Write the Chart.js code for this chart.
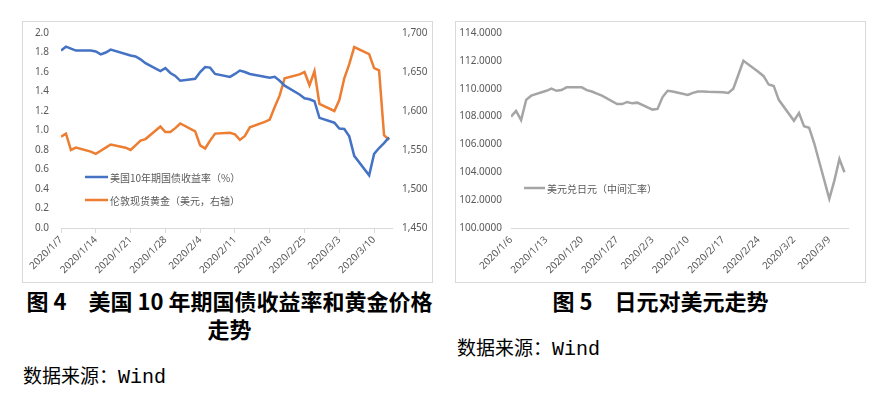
<!DOCTYPE html>
<html>
<head>
<meta charset="utf-8">
<script src="https://cdn.jsdelivr.net/npm/chart.js"></script>
<style>
  body { margin:0; background:#fff; width:889px; height:398px; position:relative; overflow:hidden; }
  .box { position:absolute; top:21px; width:411px; height:262px; border:1px solid #d9d9d9; box-sizing:border-box; }
  .box canvas { display:block; }
  .cap { position:absolute; top:286px; width:411px; text-align:center; font-family:"Noto Sans CJK SC"; font-weight:700; font-size:22px; line-height:28px; white-space:nowrap; color:#000; }
  .src { position:absolute; font-family:"Noto Sans CJK SC"; font-size:19px; line-height:24px; white-space:nowrap; color:#000; }
  .src span { font-family:"Liberation Mono"; font-size:20px; }
</style>
</head>
<body>
<div class="box" style="left:22px"><canvas id="chart4" width="409" height="260"></canvas></div>
<div class="box" style="left:455px"><canvas id="chart5" width="409" height="260"></canvas></div>
<div class="cap" style="left:24px">图 4<span style="margin-left:22px">美国 10 年期国债收益率和黄金价格</span><br>走势</div>
<div class="cap" style="left:455px">图 5<span style="margin-left:22px">日元对美元走势</span></div>
<div class="src" style="left:23px;top:363px">数据来源：<span>Wind</span></div>
<div class="src" style="left:457px;top:335px">数据来源：<span>Wind</span></div>
<script>
// 图4: trading days, US 10y yield (%) and London spot gold (USD)
const goldDates = ["2020/1/7","2020/1/8","2020/1/9","2020/1/10",
  "2020/1/13","2020/1/14","2020/1/15","2020/1/16","2020/1/17",
  "2020/1/20","2020/1/21","2020/1/22","2020/1/23","2020/1/24",
  "2020/1/27","2020/1/28","2020/1/29","2020/1/30","2020/1/31",
  "2020/2/3","2020/2/4","2020/2/5","2020/2/6","2020/2/7",
  "2020/2/10","2020/2/11","2020/2/12","2020/2/13","2020/2/14",
  "2020/2/17","2020/2/18","2020/2/19","2020/2/20","2020/2/21",
  "2020/2/24","2020/2/25","2020/2/26","2020/2/27","2020/2/28",
  "2020/3/2","2020/3/3","2020/3/4","2020/3/5","2020/3/6",
  "2020/3/9","2020/3/10","2020/3/11","2020/3/12","2020/3/13"];
const yieldValues = [1.82,1.86,1.84,1.82,
  1.82,1.81,1.78,1.80,1.83,
  null,1.77,1.76,1.73,1.69,
  1.61,1.64,1.59,1.56,1.51,
  1.53,1.60,1.65,1.645,1.58,
  1.55,1.58,1.615,1.60,1.58,
  null,1.54,1.55,1.51,1.46,
  1.37,1.33,1.32,1.30,1.13,
  1.08,1.02,1.015,0.94,0.74,
  0.54,0.76,0.82,0.87,0.93];
const goldValues = [1567,1571,1550,1553,
  1548,1545,1549,1553,1557,
  1553,1550,1556,1562,1564,
  1580,1573,1573,1578,1584,
  1574,1556,1552,1562,1571,
  1572,1570,1563,1568,1579,
  1586,1589,1605,1620,1642,
  1647,1650,1633,1651,1609,
  1600,1614,1642,1660,1682,
  1673,1655,1652,1569,1563];
const leftTickLabels = ["2020/1/7","2020/1/14","2020/1/21","2020/1/28","2020/2/4",
  "2020/2/11","2020/2/18","2020/2/25","2020/3/3","2020/3/10"];

// 图5: USD/JPY central parity
const jpyDates = ["2020/1/6","2020/1/7","2020/1/8","2020/1/9","2020/1/10",
  "2020/1/13","2020/1/14","2020/1/15","2020/1/16","2020/1/17",
  "2020/1/20","2020/1/21","2020/1/22","2020/1/23","2020/1/24",
  "2020/1/27","2020/1/28","2020/1/29","2020/1/30","2020/1/31",
  "2020/2/3","2020/2/4","2020/2/5","2020/2/6","2020/2/7",
  "2020/2/10","2020/2/11","2020/2/12","2020/2/13","2020/2/14",
  "2020/2/17","2020/2/18","2020/2/19","2020/2/20","2020/2/21",
  "2020/2/24","2020/2/25","2020/2/26","2020/2/27","2020/2/28",
  "2020/3/2","2020/3/3","2020/3/4","2020/3/5","2020/3/6",
  "2020/3/9","2020/3/10","2020/3/11","2020/3/12"];
const jpyValues = [108.0,108.4,107.75,109.2,109.5,
  109.85,110.0,109.85,109.9,110.1,
  110.1,109.9,109.8,109.65,109.5,
  108.9,108.9,109.05,108.95,109.0,
  108.5,108.55,109.4,109.85,109.8,
  109.55,109.7,109.8,109.8,109.78,
  109.75,109.7,110.0,111.0,112.0,
  111.2,110.9,110.3,110.2,109.2,
  107.7,108.25,107.3,107.2,106.1,
  102.1,103.4,104.95,104.0];
const rightTickLabels = ["2020/1/6","2020/1/13","2020/1/20","2020/1/27","2020/2/3",
  "2020/2/10","2020/2/17","2020/2/24","2020/3/2","2020/3/9"];

function dayNum(s) {
  const p = s.split("/").map(Number);
  return Date.UTC(p[0], p[1] - 1, p[2]) / 86400000;
}
function toPoints(dates, values) {
  const d0 = dayNum(dates[0]);
  return dates.map((d, i) => ({ x: dayNum(d) - d0, y: values[i] }));
}
// fixed axis box width, no extra label padding above/below
function fixWidth(w) {
  return s => { s.width = w; s.paddingTop = 0; s.paddingBottom = 0; };
}

const tickColor = "#595959";
const tickFont = { family: "Noto Sans", size: 10 };

const inlineLegend = {
  id: "inlineLegend",
  afterDraw(chart, args, opts) {
    const { ctx, chartArea } = chart;
    ctx.save();
    ctx.font = opts.font;
    ctx.textBaseline = "middle";
    chart.data.datasets.forEach((ds, i) => {
      const x = chartArea.left + opts.x;
      const y = chartArea.top + opts.y + i * opts.rowGap;
      ctx.strokeStyle = ds.borderColor;
      ctx.lineWidth = ds.borderWidth;
      ctx.beginPath();
      ctx.moveTo(x, y);
      ctx.lineTo(x + opts.lineLength, y);
      ctx.stroke();
      ctx.fillStyle = opts.color;
      ctx.fillText(ds.label, x + opts.lineLength + 2, y + 1);
    });
    ctx.restore();
  }
};

new Chart("chart4", {
  type: "line",
  data: {
    datasets: [{
      label: "美国10年期国债收益率（%）",
      data: toPoints(goldDates, yieldValues),
      borderColor: "#4472C4",
      borderWidth: 2.5,
      pointRadius: 0,
      spanGaps: true,
      yAxisID: "y"
    }, {
      label: "伦敦现货黄金（美元，右轴）",
      data: toPoints(goldDates, goldValues),
      borderColor: "#ED7D31",
      borderWidth: 2.5,
      pointRadius: 0,
      yAxisID: "y1"
    }]
  },
  options: {
    responsive: false,
    animation: false,
    devicePixelRatio: 1,
    layout: { padding: { top: 11, left: 0, right: 0, bottom: 0 } },
    plugins: {
      legend: { display: false },
      tooltip: { enabled: false },
      inlineLegend: { x: 24, y: 144, rowGap: 23, lineLength: 23, font: '10px "Noto Sans CJK SC"', color: tickColor }
    },
    scales: {
      x: {
        type: "linear", min: 0, max: 66.6,
        grid: { display: true, drawOnChartArea: false, drawTicks: true, tickLength: 5, color: "#d9d9d9" },
        border: { display: true, color: "#d9d9d9" },
        ticks: {
          stepSize: 7, includeBounds: false, autoSkip: false, minRotation: 45, maxRotation: 45,
          padding: 1, color: tickColor, font: tickFont,
          callback: v => leftTickLabels[Math.round(v / 7)]
        },
        afterFit: s => { s.height = 54; }
      },
      y: {
        position: "left", min: 0, max: 2,
        grid: { display: false, drawTicks: false },
        border: { display: false },
        ticks: { stepSize: 0.2, padding: 12, color: tickColor, font: tickFont, callback: v => v.toFixed(1) },
        afterFit: fixWidth(38)
      },
      y1: {
        position: "right", min: 1450, max: 1700,
        grid: { display: false, drawTicks: false },
        border: { display: false },
        ticks: { stepSize: 50, padding: 10, color: tickColor, font: tickFont, callback: v => v.toLocaleString("en-US") },
        afterFit: fixWidth(40)
      }
    }
  },
  plugins: [inlineLegend]
});

new Chart("chart5", {
  type: "line",
  data: {
    datasets: [{
      label: "美元兑日元（中间汇率）",
      data: toPoints(jpyDates, jpyValues),
      borderColor: "#A5A5A5",
      borderWidth: 2.5,
      pointRadius: 0
    }]
  },
  options: {
    responsive: false,
    animation: false,
    devicePixelRatio: 1,
    layout: { padding: { top: 11, left: 0, right: 17, bottom: 0 } },
    plugins: {
      legend: { display: false },
      tooltip: { enabled: false },
      inlineLegend: { x: 13, y: 155, rowGap: 23, lineLength: 21, font: '10px "Noto Sans CJK SC"', color: tickColor }
    },
    scales: {
      x: {
        type: "linear", min: 0, max: 66.7,
        grid: { display: false, drawTicks: false },
        border: { display: true, color: "#d9d9d9" },
        ticks: {
          stepSize: 7, includeBounds: false, autoSkip: false, minRotation: 45, maxRotation: 45,
          padding: 6, color: tickColor, font: tickFont,
          callback: v => rightTickLabels[Math.round(v / 7)]
        },
        afterFit: s => { s.height = 54; }
      },
      y: {
        min: 100, max: 114,
        grid: { display: false, drawTicks: false },
        border: { display: false },
        ticks: { stepSize: 2, padding: 9, color: tickColor, font: tickFont, callback: v => v.toFixed(4) },
        afterFit: fixWidth(55)
      }
    }
  },
  plugins: [inlineLegend]
});
</script>
</body>
</html>
